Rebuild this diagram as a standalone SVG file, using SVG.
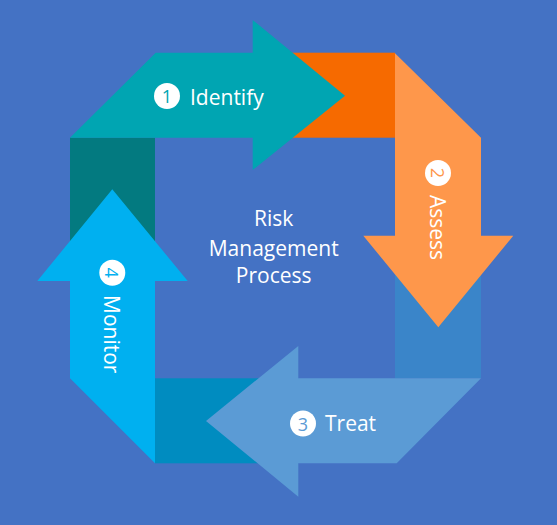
<svg xmlns="http://www.w3.org/2000/svg" width="557" height="525" viewBox="0 0 557 525">
<style>
.lbl{font-family:"Open Sans","Noto Sans",sans-serif;font-size:21px;fill:#fff}
.num{font-family:"Open Sans","Noto Sans",sans-serif;font-size:18px;text-anchor:middle;dominant-baseline:central}
.ctr{font-family:"Open Sans","Noto Sans",sans-serif;font-size:21px;fill:#fff;text-anchor:middle}
</style>
<rect width="557" height="525" fill="#4472C4"/>
<g id="connectors">
<rect x="70" y="137.7" width="85" height="143" fill="#037A80"/>
<rect x="253" y="52.7" width="142" height="85" fill="#F66A00"/>
<rect x="395" y="235.7" width="86" height="142.6" fill="#3A85C9"/>
<rect x="155" y="378.3" width="143.3" height="85" fill="#008CC0"/>
</g>
<g id="identify">
<polygon points="70,137.7 155.7,52.7 252.7,52.7 252.7,20 345,95.7 252.7,170 252.7,137.7" fill="#00A5B2"/>
<circle cx="167" cy="96" r="13" fill="#fff"/>
<text class="num" x="167" y="96" fill="#00A5B2">1</text>
<text class="lbl" x="190" y="105">Identify</text>
</g>
<g id="assess">
<polygon points="395,53.3 481,137.7 481,235.7 513.3,235.7 438.3,327.3 363.3,235.7 395,235.7" fill="#FE974B"/>
<circle cx="438" cy="173" r="13" fill="#fff"/>
<text class="num" x="0" y="0" fill="#FE974B" transform="translate(438,173) rotate(90)">2</text>
<text class="lbl" transform="translate(430,195) rotate(90)">Assess</text>
</g>
<g id="treat">
<polygon points="206,421 298.3,346 298.3,378.3 481,378.3 396.7,463.3 298.3,463.3 298.3,496.7" fill="#5B9BD5"/>
<circle cx="303" cy="423.5" r="13" fill="#fff"/>
<text class="num" x="303" y="423.5" fill="#5B9BD5">3</text>
<text class="lbl" x="325" y="431">Treat</text>
</g>
<g id="monitor">
<polygon points="112.3,189.3 187.7,281 155,281 155,463.3 70,378.3 70,281 37.3,281" fill="#00B0F0"/>
<circle cx="112.3" cy="272.7" r="13" fill="#fff"/>
<text class="num" x="0" y="0" fill="#00B0F0" transform="translate(112.3,272.7) rotate(90)">4</text>
<text class="lbl" transform="translate(104,295) rotate(90)">Monitor</text>
</g>
<g id="title">
<text class="ctr" x="273.7" y="225.7">Risk</text>
<text class="ctr" x="273.7" y="255.7">Management</text>
<text class="ctr" x="273.7" y="283.3">Process</text>
</g>
</svg>
